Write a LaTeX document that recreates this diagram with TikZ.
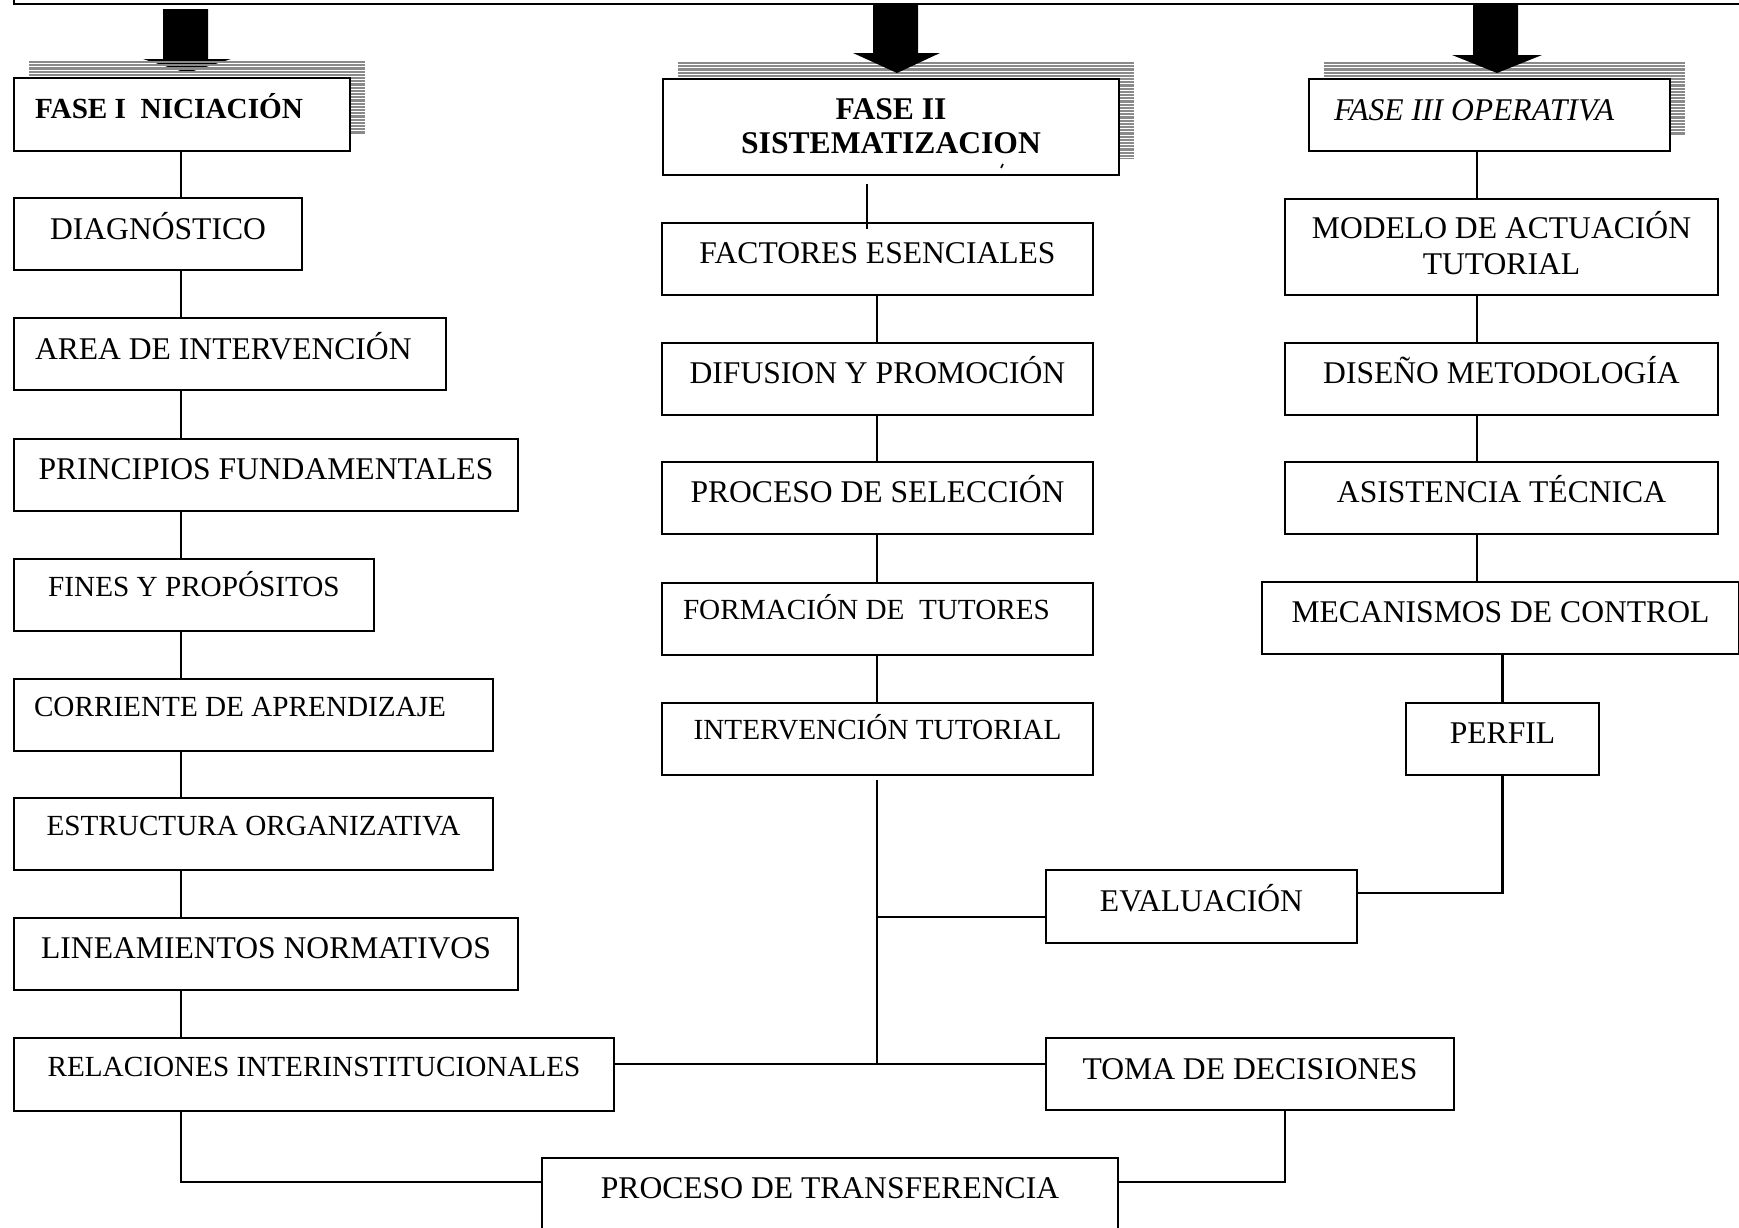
\documentclass[tikz,border=0pt]{standalone}
\usepackage{fontspec}
\setmainfont{Liberation Serif}
\usetikzlibrary{calc}
\newcommand\fL{\fontsize{15.8}{18}\selectfont}
\newcommand\fS{\fontsize{14.6}{17}\selectfont}
\definecolor{stripe}{HTML}{8A8A8A}
\begin{document}
\begin{tikzpicture}[x=0.5pt,y=-0.5pt,
  box/.style={draw, line width=1pt, fill=white, inner sep=0pt, anchor=north west},
  conn/.style={line width=1.3pt},
  stripeline/.style={draw=stripe, line width=1.1pt}]
\useasboundingbox (0,0) rectangle (1739,1227);
\clip (0,0) rectangle (1739,1227);

% top box (cut off)
\node[draw, line width=1pt, inner sep=0pt, minimum width=880pt, minimum height=20pt, anchor=south west] (top) at (13,5) {};

% arrow 1 (flattened head), under the stripes
\fill (163,9) -- (208,9) -- (208,59) -- (231,59) -- (187,73) -- (143,59) -- (163,59) -- cycle;

% shadow stripes
\foreach \sx/\sy/\ex/\ey in {29/61/365/134, 678/62/1134/158, 1324/62/1685/134} {
  \begin{scope}
    \clip (\sx,\sy) rectangle (\ex,\ey);
    \foreach \k in {0,...,31} \draw[stripeline] (\sx,\sy+1+3.2*\k) -- (\ex,\sy+1+3.2*\k);
  \end{scope}
}

% arrows 2 and 3
\fill (873,5) -- (918,5) -- (918,53) -- (940,53) -- (897,73) -- (853,53) -- (873,53) -- cycle;
\fill (1473,5) -- (1518,5) -- (1518,55) -- (1542,55) -- (1497,73) -- (1452,55) -- (1473,55) -- cycle;

% phase headers
\node[box, minimum width=168pt, minimum height=36.5pt, text height=20pt, text depth=16.5pt, font=\fS\bfseries] (f1) at (13,77) {\makebox[147pt][l]{FASE I\ \ NICIACIÓN}};
\node[box, minimum width=228pt, minimum height=48pt, text height=20pt, text depth=28pt, font={\fontsize{15.8}{17}\selectfont\bfseries}] (f2) at (662,78) {\begin{tabular}[t]{@{}c@{}}FASE II\\SISTEMATIZACION\end{tabular}};
\draw[line width=0.8pt] (1001,168) -- (1003,164);
\node[box, minimum width=180.5pt, minimum height=36pt, text height=20.5pt, text depth=15.5pt, font=\fL\itshape] (f3) at (1308,78) {\makebox[155.5pt][l]{FASE III OPERATIVA}};

% left column
\node[box, minimum width=144pt, minimum height=36pt, text height=20.5pt, text depth=15.5pt, font=\fL] (d) at (13,197) {DIAGNÓSTICO};
\node[box, minimum width=216pt, minimum height=36pt, text height=20.5pt, text depth=15.5pt, font=\fL] (a) at (13,317) {\makebox[195pt][l]{AREA DE INTERVENCIÓN}};
\node[box, minimum width=252pt, minimum height=36pt, text height=20pt, text depth=16pt, font=\fL] (p) at (13,438) {PRINCIPIOS FUNDAMENTALES};
\node[box, minimum width=180pt, minimum height=36pt, text height=18.5pt, text depth=17.5pt, font=\fS] (fi) at (13,558) {FINES Y PROPÓSITOS};
\node[box, minimum width=239.5pt, minimum height=36pt, text height=18.5pt, text depth=17.5pt, font=\fS] (c) at (13,678) {\makebox[219.5pt][l]{CORRIENTE DE APRENDIZAJE}};
\node[box, minimum width=239.5pt, minimum height=36pt, text height=18.5pt, text depth=17.5pt, font=\fS] (e) at (13,797) {ESTRUCTURA ORGANIZATIVA};
\node[box, minimum width=252pt, minimum height=36pt, text height=20pt, text depth=16pt, font=\fL] (li) at (13,917) {LINEAMIENTOS NORMATIVOS};
\node[box, minimum width=300pt, minimum height=36.5pt, text height=19pt, text depth=17.5pt, font=\fS] (r) at (13,1037) {RELACIONES INTERINSTITUCIONALES};

% middle column
\node[box, minimum width=215.5pt, minimum height=36pt, text height=20pt, text depth=16pt, font=\fL] (fa) at (661,222) {FACTORES ESENCIALES};
\node[box, minimum width=215.5pt, minimum height=36pt, text height=20pt, text depth=16pt, font=\fL] (di) at (661,342) {DIFUSION Y PROMOCIÓN};
\node[box, minimum width=215.5pt, minimum height=36pt, text height=20pt, text depth=16pt, font=\fL] (ps) at (661,461) {PROCESO DE SELECCIÓN};
\node[box, minimum width=215.5pt, minimum height=36pt, text height=18pt, text depth=18pt, font=\fS] (fo) at (661,582) {\makebox[194.5pt][l]{FORMACIÓN DE\ \ TUTORES}};
\node[box, minimum width=215.5pt, minimum height=36pt, text height=18pt, text depth=18pt, font=\fS] (in) at (661,702) {INTERVENCIÓN TUTORIAL};

% right column
\node[box, minimum width=216.5pt, minimum height=48pt, text height=19.5pt, text depth=28.5pt, font=\fL] (mo) at (1284,198) {\begin{tabular}[t]{@{}c@{}}MODELO DE ACTUACIÓN\\TUTORIAL\end{tabular}};
\node[box, minimum width=216.5pt, minimum height=36pt, text height=20pt, text depth=16pt, font=\fL] (ds) at (1284,342) {DISEÑO METODOLOGÍA};
\node[box, minimum width=216.5pt, minimum height=36pt, text height=20pt, text depth=16pt, font=\fL] (as) at (1284,461) {ASISTENCIA TÉCNICA};
\node[box, minimum width=238.5pt, minimum height=36pt, text height=20pt, text depth=16pt, font=\fL] (me) at (1261,581) {MECANISMOS DE CONTROL};
\node[box, minimum width=96.5pt, minimum height=36pt, text height=20pt, text depth=16pt, font=\fL] (pe) at (1405,702) {PERFIL};
\node[box, minimum width=155.5pt, minimum height=36.5pt, text height=20.5pt, text depth=16pt, font=\fL] (ev) at (1045,869) {EVALUACIÓN};
\node[box, minimum width=204pt, minimum height=36pt, text height=20.5pt, text depth=15.5pt, font=\fL] (to) at (1045,1037) {TOMA DE DECISIONES};
\node[box, minimum width=288pt, minimum height=50pt, text height=20pt, text depth=30pt, font=\fL] (pt) at (541,1157) {PROCESO DE TRANSFERENCIA};

% guide coordinates
\coordinate (xl) at (181,0);
\coordinate (xm) at (877,0);
\coordinate (xm2) at (867,0);
\coordinate (xr) at (1477,0);
\coordinate (xt) at (1285,0);
\coordinate (jb) at (0,1182);
\coordinate (jr) at (0,1064);
\coordinate (je) at (0,917);
\coordinate (jv) at (0,893);

% connectors
\foreach \u/\v in {f1/d,d/a,a/p,p/fi,fi/c,c/e,e/li,li/r}
  \draw[conn] (\u.south -| xl) -- (\v.north -| xl);
\draw[conn] ($(f2.south -| xm2)+(0,8)$) -- ($(fa.north -| xm2)+(0,7)$);
\foreach \u/\v in {fa/di,di/ps,ps/fo,fo/in}
  \draw[conn] (\u.south -| xm) -- (\v.north -| xm);
\draw[conn] ($(in.south -| xm)+(0,4)$) -- (xm |- jr);
\draw[conn] (xm |- je) -- (ev.west |- je);
\draw[conn] (r.east |- jr) -- (to.west |- jr);
\draw[conn] (r.south -| xl) |- (pt.west |- jb);
\draw[conn] (to.south -| xt) |- (pt.east |- jb);
\foreach \u/\v in {f3/mo,mo/ds,ds/as,as/me}
  \draw[conn] (\u.south -| xr) -- (\v.north -| xr);
\draw[conn] (me.south -| pe.north) -- (pe.north);
\draw[conn] (pe.south) |- (ev.east |- jv);
\end{tikzpicture}
\end{document}
